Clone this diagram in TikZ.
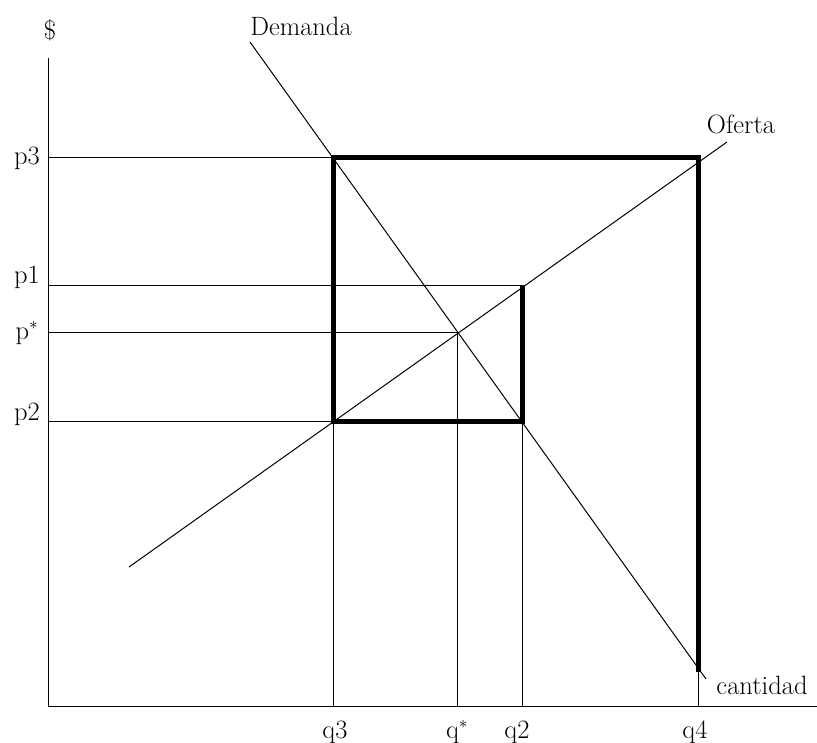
\documentclass[tikz,border=0pt]{standalone}
\begin{document}
\begin{tikzpicture}[x=1pt,y=-1pt,
  thinline/.style={line width=1pt},
  boldline/.style={line width=5pt,line join=miter,line cap=butt},
  lbl/.style={inner sep=0pt,anchor=base,font=\fontsize{26.5}{30}\selectfont}]
\useasboundingbox (0,0) rectangle (817,742);
% key points
\coordinate (O) at (48,706);
\coordinate (Ytop) at (48,58);
\coordinate (Xend) at (817,706);
\coordinate (A3) at (333,157);
\coordinate (B4) at (698,157);
\coordinate (C4) at (698,672);
\coordinate (S2) at (333,421);
\coordinate (D2) at (522,421);
\coordinate (E1) at (522,285);
\coordinate (Eq) at (457,332);
\coordinate (Dtop) at (250,42);
\coordinate (Dbot) at (706,679);
\coordinate (Sbot) at (129,567);
\coordinate (Stop) at (727,142);
% axes
\draw[thinline] (Ytop) -- (O) -- (Xend);
% guide lines
\draw[thinline] (O |- A3) -- (A3);
\draw[thinline] (O |- E1) -- (E1);
\draw[thinline] (O |- Eq) -- (Eq) -- (Eq |- O);
\draw[thinline] (O |- S2) -- (S2) -- (S2 |- O);
\draw[thinline] (D2) -- (D2 |- O);
\draw[thinline] (C4) -- (C4 |- O);
% curves
\draw[thinline] (Dtop) -- (Dbot);
\draw[thinline] (Sbot) -- (Stop);
% thick boxes
\draw[boldline] (C4) -- (B4) -- (A3) -- (S2) -- (D2) -- (E1);
% labels
\node[lbl] (ld) at (50,39) {\$};
\node[lbl] (lDem) at (301,35) {Demanda};
\node[lbl] (lOf) at (741,133) {Oferta};
\node[lbl] (lcant) at (762,694) {cantidad};
\node[lbl] (lp3) at (27,164) {p3};
\node[lbl] (lp1) at (27,283) {p1};
\node[lbl] (lps) at (27,339) {p$^{*}$};
\node[lbl] (lp2) at (27,420) {p2};
\node[lbl] (lq3) at (335,738) {q3};
\node[lbl] (lqs) at (457,738) {q$^{*}$};
\node[lbl] (lq2) at (517,738) {q2};
\node[lbl] (lq4) at (695,738) {q4};
\end{tikzpicture}
\end{document}
